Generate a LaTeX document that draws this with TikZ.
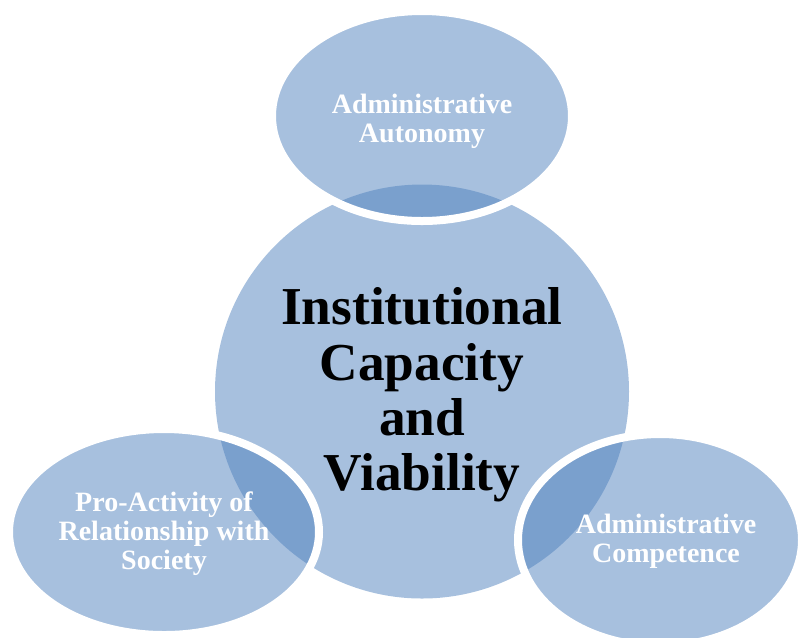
\documentclass[tikz,border=0pt]{standalone}
\usepackage{fontspec}
\setmainfont{Liberation Serif}
\usetikzlibrary{shapes.geometric}
\definecolor{accentblue}{HTML}{4F81BD}
\begin{document}
\begin{tikzpicture}[x=0.75pt,y=-0.75pt,
  hub/.style={circle, fill=accentblue, fill opacity=0.5, inner sep=0pt, minimum size=310.5pt},
  petal/.style={ellipse, fill=accentblue, fill opacity=0.5, draw=white, draw opacity=1, line width=6pt, inner sep=0pt},
  petaltext/.style={text=white, text opacity=1, font=\bfseries\fontsize{21}{21.75}\selectfont, align=center, inner sep=0pt},
  hubtext/.style={text=black, text opacity=1, font=\bfseries\fontsize{40}{41.6}\selectfont, align=center, inner sep=0pt}]
\useasboundingbox (0,0) rectangle (798,637);
\node[hub] (hub) at (422,391.5) {};
\node[petal, minimum width=225pt, minimum height=157.5pt] (top) at (422,116) {};
\node[petal, minimum width=232.5pt, minimum height=154.5pt] (left) at (164,532) {};
\node[petal, minimum width=213pt, minimum height=159pt] (right) at (660,540) {};
\node[hubtext] (hubt) at (422,395) {Institutional\\Capacity\\and\\Viability};
\node[petaltext] (topt) at (422,121) {Administrative\\Autonomy};
\node[petaltext] (leftt) at (164,534) {Pro-Activity of\\Relationship with\\Society};
\node[petaltext] (rightt) at (666,541) {Administrative\\Competence};
\end{tikzpicture}
\end{document}
